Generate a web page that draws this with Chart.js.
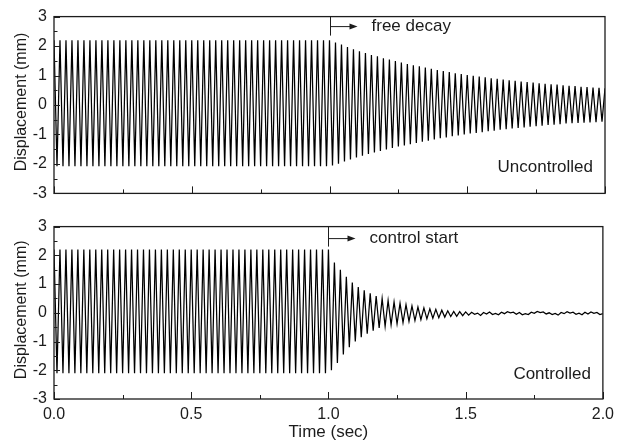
<!DOCTYPE html>
<html>
<head>
<meta charset="utf-8">
<script src="https://cdn.jsdelivr.net/npm/chart.js@4.4.1/dist/chart.umd.min.js"></script>
<style>
  html, body { margin: 0; padding: 0; background: #fff; }
  #wrap { position: relative; width: 620px; height: 445px; }
  #topChart { position: absolute; left: 0; top: 0; }
  #bottomChart { position: absolute; left: 0; top: 210px; }
</style>
</head>
<body>
<div id="wrap">
  <canvas id="topChart" width="620" height="210" style="width:620px;height:210px"></canvas>
  <canvas id="bottomChart" width="620" height="235" style="width:620px;height:235px"></canvas>
</div>
<script>
// peak values (one per half cycle), ~46 Hz vibration
const halfPeriod = 1 / 92; // sec between successive peaks

const uncontrolled = [
  2.2, -2.08, 2.2, -2.08, 2.2, -2.08, 2.2, -2.08, 2.2, -2.08, 2.2, -2.08, 2.2, -2.08, 2.2, -2.08,
  2.2, -2.08, 2.2, -2.08, 2.2, -2.08, 2.2, -2.08, 2.2, -2.08, 2.2, -2.08, 2.2, -2.08, 2.2, -2.08,
  2.2, -2.08, 2.2, -2.08, 2.2, -2.08, 2.2, -2.08, 2.2, -2.08, 2.2, -2.08, 2.2, -2.08, 2.2, -2.08,
  2.2, -2.08, 2.2, -2.08, 2.2, -2.08, 2.2, -2.08, 2.2, -2.08, 2.2, -2.08, 2.2, -2.08, 2.2, -2.08,
  2.2, -2.08, 2.2, -2.08, 2.2, -2.08, 2.2, -2.08, 2.2, -2.08, 2.2, -2.08, 2.2, -2.08, 2.2, -2.08,
  2.2, -2.08, 2.2, -2.08, 2.2, -2.08, 2.2, -2.08, 2.2, -2.08, 2.2, -2.08, 2.2,
  // free decay after 1.0 s
  -2.05, 2.12, -1.99, 2.05, -1.92, 1.97, -1.85, 1.89, -1.78, 1.82, -1.72, 1.76, -1.66, 1.70,
  -1.61, 1.65, -1.56, 1.59, -1.51, 1.54, -1.46, 1.49, -1.41, 1.44, -1.37, 1.39, -1.33, 1.35,
  -1.29, 1.31, -1.25, 1.27, -1.21, 1.23, -1.17, 1.19, -1.13, 1.15, -1.10, 1.12, -1.06, 1.08,
  -1.03, 1.05, -1.00, 1.02, -0.97, 0.99, -0.95, 0.97, -0.92, 0.94, -0.89, 0.91, -0.87, 0.89,
  -0.84, 0.86, -0.82, 0.84, -0.80, 0.82, -0.78, 0.80, -0.76, 0.78, -0.74, 0.76, -0.72, 0.74,
  -0.70, 0.72, -0.68, 0.70, -0.67, 0.69, -0.65, 0.67, -0.63, 0.65, -0.62, 0.64, -0.61, 0.62,
  -0.60, 0.61, -0.59, 0.59, -0.58, 0.58, -0.57, 0.57
];

const controlled = [
  2.2, -2.1, 2.2, -2.1, 2.2, -2.1, 2.2, -2.1, 2.2, -2.1, 2.2, -2.1, 2.2, -2.1, 2.2, -2.1,
  2.2, -2.1, 2.2, -2.1, 2.2, -2.1, 2.2, -2.1, 2.2, -2.1, 2.2, -2.1, 2.2, -2.1, 2.2, -2.1,
  2.2, -2.1, 2.2, -2.1, 2.2, -2.1, 2.2, -2.1, 2.2, -2.1, 2.2, -2.1, 2.2, -2.1, 2.2, -2.1,
  2.2, -2.1, 2.2, -2.1, 2.2, -2.1, 2.2, -2.1, 2.2, -2.1, 2.2, -2.1, 2.2, -2.1, 2.2, -2.1,
  2.2, -2.1, 2.2, -2.1, 2.2, -2.1, 2.2, -2.1, 2.2, -2.1, 2.2, -2.1, 2.2, -2.1, 2.2, -2.1,
  2.2, -2.1, 2.2, -2.1, 2.2, -2.1, 2.2, -2.1, 2.2, -2.1, 2.2, -2.1, 2.2,
  // control switched on at 1.0 s
  -2.0, 1.75, -1.75, 1.5, -1.45, 1.25, -1.2, 1.05, -1.0, 0.9, -0.85, 0.78, -0.73, 0.68,
  -0.62, 0.58, -0.53, 0.5, -0.47, 0.43, -0.42, 0.38, -0.38, 0.33, -0.34, 0.28, -0.3, 0.24,
  -0.27, 0.2, -0.24, 0.17, -0.21, 0.14, -0.19, 0.12, -0.17, 0.09, -0.15, 0.07, -0.13, 0.05,
  -0.12, 0.04, -0.1, 0.03,
  // residual noise
  -0.08, 0.02, -0.05, -0.01, -0.09, 0.01, -0.04, 0.03, -0.06, -0.02, -0.07, 0.02, -0.03, 0.04,
  0.00, 0.02, -0.05, 0.01, -0.07, -0.03, -0.06, 0.02, -0.02, 0.05, 0.01, 0.03, -0.04, 0.00,
  -0.06, -0.02, -0.08, 0.01, -0.03, 0.04, -0.01, 0.02, -0.05, -0.01, -0.07, 0.02, -0.04, 0.03,
  -0.02, 0.01, -0.06, -0.03
];

const timeTicks = [0, 0.25, 0.5, 0.75, 1.0, 1.25, 1.5, 1.75, 2.0];
const dispTicks = [-3, -2.5, -2, -1.5, -1, -0.5, 0, 0.5, 1, 1.5, 2, 2.5, 3];

const INK = '#1c1c1c';
const FONT = '"Liberation Sans", Arial, Helvetica, sans-serif';

const toPoints = (vals) => vals.map((v, i) => ({ x: i * halfPeriod, y: v }));

// frame, inward ticks, axis title and annotations
const decorPlugin = {
  id: 'decor',
  afterDraw(chart, args, opts) {
    const { ctx, chartArea: a, scales: { x, y } } = chart;
    ctx.save();
    ctx.strokeStyle = INK;
    ctx.lineWidth = 1.3;
    ctx.strokeRect(a.left, a.top, a.right - a.left, a.bottom - a.top);

    ctx.lineWidth = 1;
    ctx.beginPath();
    timeTicks.forEach(t => {
      const px = Math.round(x.getPixelForValue(t)) + 0.5;
      const len = (t * 2) % 1 === 0 ? 7 : 4;
      ctx.moveTo(px, a.bottom);
      ctx.lineTo(px, a.bottom - len);
    });
    dispTicks.forEach(v => {
      const py = Math.round(y.getPixelForValue(v)) + 0.5;
      const len = v % 1 === 0 ? 6 : 3.5;
      ctx.moveTo(a.left, py);
      ctx.lineTo(a.left + len, py);
    });
    ctx.stroke();

    // y axis title
    ctx.fillStyle = INK;
    ctx.font = '16px ' + FONT;
    ctx.textAlign = 'center';
    ctx.textBaseline = 'middle';
    ctx.save();
    ctx.translate(22, (a.top + a.bottom) / 2 - 3);
    ctx.rotate(-Math.PI / 2);
    ctx.fillText('Displacement (mm)', 0, 0);
    ctx.restore();

    // marker line + arrow at switch time
    const mx = Math.round(x.getPixelForValue(opts.marker)) + 0.5;
    const ay = a.top + opts.arrowY;
    ctx.beginPath();
    ctx.moveTo(mx, a.top);
    ctx.lineTo(mx, a.top + opts.markLen);
    ctx.moveTo(mx, ay);
    ctx.lineTo(mx + 20, ay);
    ctx.stroke();
    ctx.beginPath();
    ctx.moveTo(mx + 27, ay);
    ctx.lineTo(mx + 19, ay - 3);
    ctx.lineTo(mx + 19, ay + 3);
    ctx.closePath();
    ctx.fill();

    ctx.font = '17px ' + FONT;
    ctx.textAlign = 'left';
    ctx.fillText(opts.label, mx + 41, ay);
    ctx.textAlign = 'right';
    ctx.fillText(opts.caption, a.right - 12, a.bottom - opts.captionUp);

    if (opts.xTitle) {
      ctx.textAlign = 'center';
      ctx.fillText(opts.xTitle, (a.left + a.right) / 2, 222);
    }
    ctx.restore();
  }
};

const makeChart = (id, values, decor, showX) => new Chart(document.getElementById(id), {
  type: 'line',
  data: {
    datasets: [{
      data: toPoints(values),
      borderColor: '#000',
      borderWidth: 1.25,
      pointRadius: 0,
      tension: 0,
      fill: false
    }]
  },
  options: {
    responsive: false,
    animation: false,
    events: [],
    layout: { padding: { top: showX ? 10 : 14, right: 15, left: 0, bottom: 0 } },
    plugins: { legend: { display: false }, tooltip: { enabled: false }, decor: decor },
    scales: {
      x: {
        type: 'linear',
        min: 0, max: 2,
        grid: { display: false, drawTicks: false },
        border: { display: false },
        ticks: {
          display: showX,
          stepSize: 0.5,
          padding: 6,
          color: INK,
          font: { family: FONT, size: 16 },
          maxRotation: 0,
          callback: (v) => v.toFixed(1)
        },
        afterFit: (s) => { s.height = showX ? 46 : 16; }
      },
      y: {
        min: -3, max: 3,
        grid: { display: false, drawTicks: false },
        border: { display: false },
        ticks: {
          stepSize: 1,
          padding: 7,
          color: INK,
          font: { family: FONT, size: 16 }
        },
        afterFit: (s) => { s.width = 54; }
      }
    }
  },
  plugins: [decorPlugin]
});

makeChart('topChart', uncontrolled,
  { marker: 1.0, markLen: 19, arrowY: 10, label: 'free decay', caption: 'Uncontrolled', captionUp: 26 }, false);
makeChart('bottomChart', controlled,
  { marker: 1.0, markLen: 20, arrowY: 12, label: 'control start', caption: 'Controlled', captionUp: 25, xTitle: 'Time (sec)' }, true);
</script>
</body>
</html>
